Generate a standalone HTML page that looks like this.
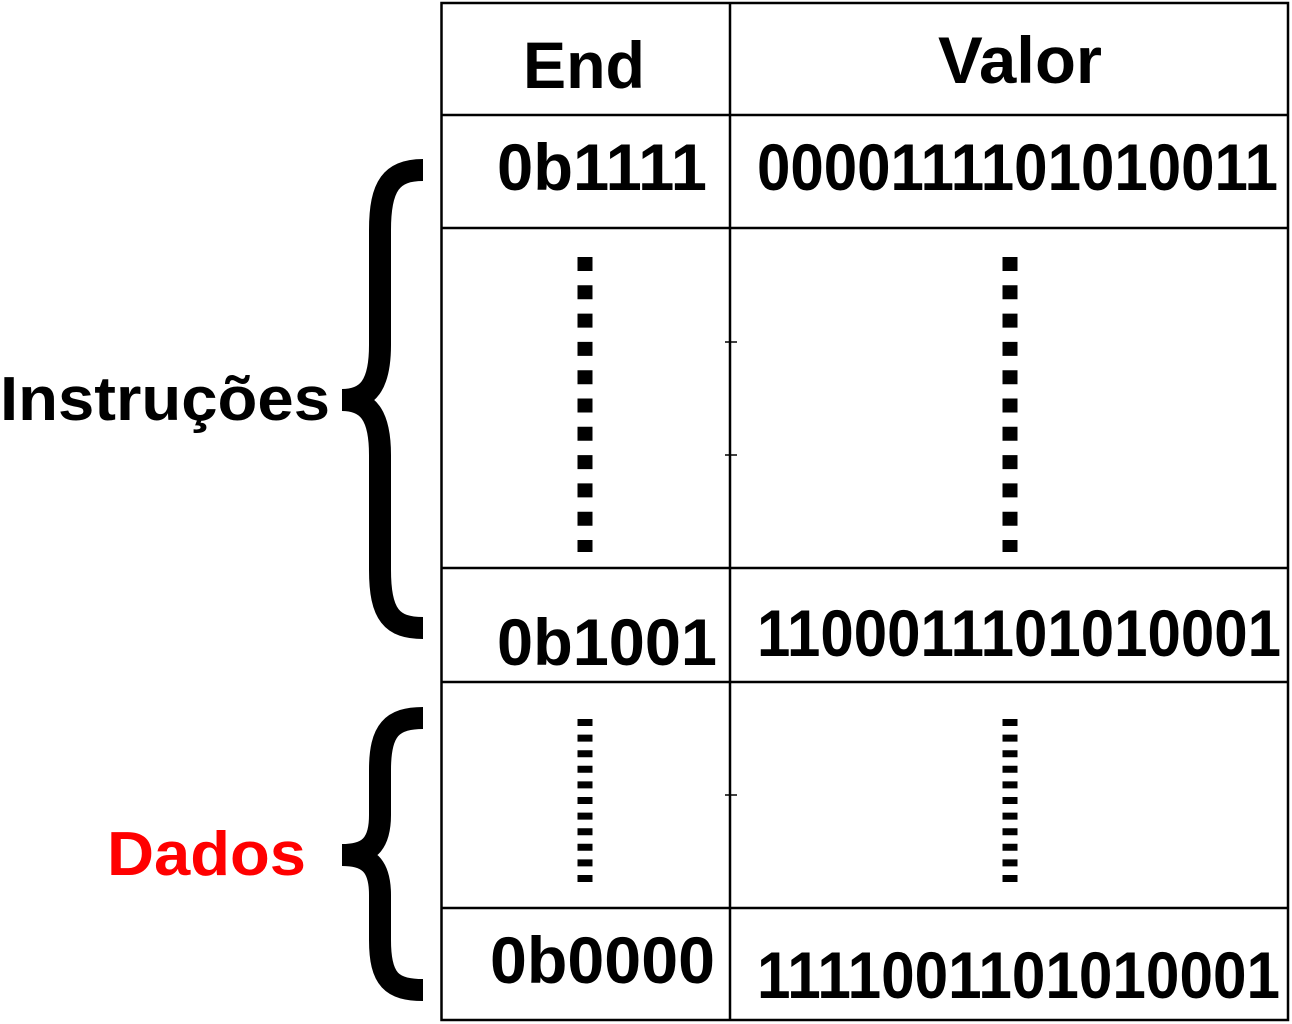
<!DOCTYPE html>
<html><head><style>html,body{margin:0;padding:0;background:#fff}svg{display:block}</style></head>
<body>
<svg width="1292" height="1024" viewBox="0 0 1292 1024" xmlns="http://www.w3.org/2000/svg" font-family="Liberation Sans, Arial, sans-serif" font-weight="bold">
<g stroke="#000" stroke-width="2.5" fill="none">
<rect x="441.5" y="3" width="846.5" height="1017"/>
<line x1="730" y1="3" x2="730" y2="1020"/>
<line x1="441" y1="115" x2="1288" y2="115"/>
<line x1="441" y1="228" x2="1288" y2="228"/>
<line x1="441" y1="568" x2="1288" y2="568"/>
<line x1="441" y1="682" x2="1288" y2="682"/>
<line x1="441" y1="908" x2="1288" y2="908"/>
<line x1="725" y1="342" x2="737" y2="342" stroke-width="1.5"/>
<line x1="725" y1="455" x2="737" y2="455" stroke-width="1.5"/>
<line x1="725" y1="795" x2="737" y2="795" stroke-width="1.5"/>
</g>
<g stroke="#000" stroke-width="15" fill="none">
<line x1="585" y1="257" x2="585" y2="552" stroke-dasharray="14,14.3"/>
<line x1="1010" y1="257" x2="1010" y2="552" stroke-dasharray="14,14.3"/>
<line x1="585" y1="719" x2="585" y2="883" stroke-dasharray="7,8.6"/>
<line x1="1010" y1="719" x2="1010" y2="883" stroke-dasharray="7,8.6"/>
</g>
<g stroke="#000" stroke-width="22" fill="none">
<path d="M423,170 C392,170 380,185 380,230 L380,345 C380,385 368,400 342,400 C368,400 380,415 380,455 L380,570 C380,615 392,628 423,628"/>
<path d="M423,718 C392,718 380,730 380,770 L380,815 C380,845 368,855 342,855 C368,855 380,865 380,895 L380,940 C380,980 392,990 423,990"/>
</g>
<g fill="#000" font-size="66">
<text x="523" y="88" textLength="122" lengthAdjust="spacingAndGlyphs">End</text>
<text x="938" y="83" textLength="164" lengthAdjust="spacingAndGlyphs">Valor</text>
<text x="497" y="190" textLength="210" lengthAdjust="spacingAndGlyphs">0b1111</text>
<text x="757" y="190" textLength="521" lengthAdjust="spacingAndGlyphs">0000111101010011</text>
<text x="497" y="665" textLength="220" lengthAdjust="spacingAndGlyphs">0b1001</text>
<text x="757" y="656" textLength="524" lengthAdjust="spacingAndGlyphs">1100011101010001</text>
<text x="490" y="983" textLength="225" lengthAdjust="spacingAndGlyphs">0b0000</text>
<text x="757" y="998" textLength="523" lengthAdjust="spacingAndGlyphs">1111001101010001</text>
<text x="0" y="420" font-size="62" textLength="330" lengthAdjust="spacingAndGlyphs">Instruções</text>
<text x="107" y="875" font-size="62" fill="#ff0000" textLength="199" lengthAdjust="spacingAndGlyphs">Dados</text>
</g>
</svg>
</body></html>
